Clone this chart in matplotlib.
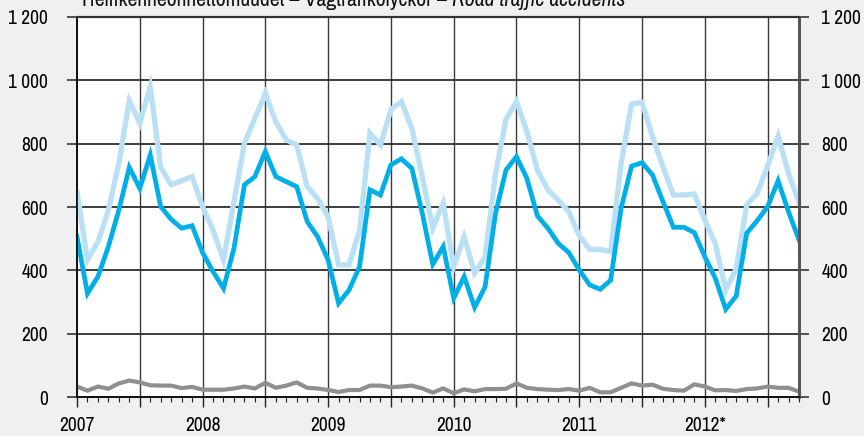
import numpy as np
import matplotlib
matplotlib.use('Agg')
import matplotlib.pyplot as plt
from matplotlib import font_manager as fm
from matplotlib.ticker import FixedLocator, FixedFormatter, MultipleLocator

# Kuukausittaiset tiedot 1/2007 - 10/2012
kaikki = [648, 433, 490, 590, 738, 936, 864, 980, 725, 670, 683, 696,
          601, 527, 433, 617, 801, 880, 959, 869, 812, 796, 664, 627,
          569, 417, 417, 527, 833, 796, 908, 933, 848, 696, 533, 612,
          412, 506, 391, 443, 706, 877, 933, 838, 717, 654, 622, 585,
          510, 466, 466, 459, 738, 925, 931, 822, 727, 638, 638, 641,
          559, 485, 338, 405, 606, 643, 729, 824, 706, 614]
loukkaantuneet = [506, 327, 380, 475, 590, 725, 659, 764, 601, 561, 533, 541,
                  456, 396, 343, 469, 670, 696, 775, 696, 680, 664, 554, 506,
                  433, 296, 338, 411, 654, 638, 733, 752, 722, 580, 419, 475,
                  312, 380, 283, 348, 580, 717, 759, 690, 572, 533, 485, 456,
                  401, 354, 340, 369, 596, 729, 740, 701, 617, 536, 536, 519,
                  443, 375, 277, 319, 517, 557, 601, 683, 585, 496]
kuolleet = [33, 20, 33, 26, 43, 52, 46, 37, 36, 36, 28, 32,
            23, 23, 23, 27, 33, 27, 45, 29, 36, 46, 29, 27,
            22, 16, 22, 22, 36, 36, 31, 33, 36, 27, 14, 27,
            12, 24, 18, 25, 25, 26, 43, 29, 25, 23, 22, 25,
            20, 29, 15, 15, 29, 43, 36, 39, 26, 22, 20, 40,
            33, 21, 22, 19, 25, 27, 33, 29, 29, 17]
vuodet = ['2007', '2008', '2009', '2010', '2011', '2012*']
y_tikit = [0, 200, 400, 600, 800, 1000, 1200]
y_nimet = ['0', '200', '400', '600', '800', '1 000', '1 200']

# kapea fontti jos sellainen löytyy, muuten Roboto
asennetut = {f.name for f in fm.fontManager.ttflist}
kapeat = [n for n in sorted(asennetut) if 'Narrow' in n or 'Condensed' in n]
fontti = kapeat[0] if kapeat else 'Roboto'
plt.rcParams['font.family'] = [fontti, 'DejaVu Sans']
koko = 14 if kapeat else 12.5
otsikko_koko = koko * 1.12

fig = plt.figure(figsize=(8.64, 4.36), dpi=100, facecolor='#f0f0f0')
ax = fig.add_axes([77 / 864, 39 / 436, 722 / 864, 380 / 436])
ax.set_facecolor('white')

x = np.arange(len(kaikki))
ax.plot(x, kaikki, color='#bae0f6', lw=3.8, solid_joinstyle='miter', zorder=3)
ax.plot(x, loukkaantuneet, color='#00aee8', lw=3.4, solid_joinstyle='miter', zorder=4)
ax.plot(x, kuolleet, color='#8f8f8f', lw=3.0, solid_joinstyle='miter', zorder=5)

ax.set_xlim(0, len(kaikki) - 1)
ax.set_ylim(0, 1200)

# pystyviivat puolen vuoden välein, vaakaviivat 200 välein
for xv in range(6, len(kaikki), 6):
    ax.axvline(xv, color='#3a3a3a', lw=1.0, zorder=1)
for yv in y_tikit[1:-1]:
    ax.axhline(yv, color='#2e2e2e', lw=1.3, zorder=1)

ax.xaxis.set_major_locator(FixedLocator(list(range(0, len(kaikki), 6))))
ax.xaxis.set_major_formatter(FixedFormatter(
    [vuodet[i // 2] if i % 2 == 0 else '' for i in range(12)]))
ax.xaxis.set_minor_locator(MultipleLocator(1))
ax.tick_params(axis='x', which='major', length=7.5, width=1, direction='out',
               pad=6, color='#222222', labelsize=koko)
ax.tick_params(axis='x', which='minor', length=3.8, width=0.8, direction='out',
               color='#222222')

ax.set_yticks(y_tikit)
ax.set_yticklabels(y_nimet)
ax.tick_params(axis='y', length=7.5, width=1.2, direction='out', pad=13.5,
               color='#333333', labelsize=koko)

ax2 = ax.twinx()
ax2.set_ylim(0, 1200)
ax2.set_yticks(y_tikit)
ax2.set_yticklabels(y_nimet)
ax2.tick_params(axis='y', length=7.5, width=1.2, direction='out', pad=8.5,
                color='#333333', labelsize=koko)

for a in (ax, ax2):
    a.spines['top'].set_color('#333333')
    a.spines['top'].set_linewidth(1.5)
    a.spines['left'].set_color('#111111')
    a.spines['left'].set_linewidth(1.3)
    a.spines['bottom'].set_color('#111111')
    a.spines['bottom'].set_linewidth(1.3)
    a.spines['right'].set_color('#555555')
    a.spines['right'].set_linewidth(2)

# otsikko, englanninkielinen osa kursiivilla
t1 = fig.text(79 / 864, 1 - 6 / 436, 'Tieliikenneonnettomuudet – Vägtrafikolyckor – ',
              ha='left', va='baseline', fontsize=otsikko_koko, color='#111111')
fig.canvas.draw()
bb = t1.get_window_extent()
fig.text(bb.x1 / 864, 1 - 6 / 436, 'Road traffic accidents', ha='left', va='baseline',
         fontsize=otsikko_koko, style='italic', color='#111111')

fig.savefig('out.png', dpi=100, facecolor=fig.get_facecolor())
